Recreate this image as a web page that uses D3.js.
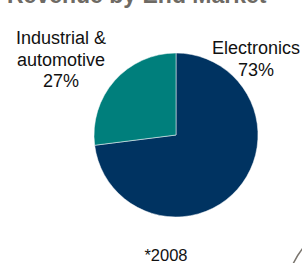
<!DOCTYPE html>
<html>
<head>
<meta charset="utf-8">
<script src="https://cdn.jsdelivr.net/npm/d3@7"></script>
<style>
  body { margin: 0; background: #fff; }
  svg { display: block; font-family: Arial, "Liberation Sans", sans-serif; }
</style>
</head>
<body>
<svg id="chart" width="302" height="263"></svg>
<script>
// data
var segments = ['Electronics', 'Industrial & automotive'];
var shares = [73, 27];
var segColors = ['#003361', '#007f7c'];
var titleText = 'Revenue by End Market';
var footText = '*2008';

var svg = d3.select('#chart');

// title (cut off at the top, as in the slide crop)
svg.append('text')
    .attr('x', 7)
    .attr('y', 3)
    .attr('font-size', 23)
    .attr('font-weight', 'bold')
    .attr('fill', '#6e6a64')
    .text(titleText);

var cx = 176, cy = 135, r = 82;

var pie = d3.pie().sort(null).value(d => d.v);
var arc = d3.arc().innerRadius(0).outerRadius(r);
var data = segments.map((s, i) => ({name: s, v: shares[i], color: segColors[i]}));

var g = svg.append('g').attr('transform', 'translate(' + cx + ',' + cy + ')');
g.selectAll('path.slice')
    .data(pie(data))
    .enter().append('path')
    .attr('class', 'slice')
    .attr('d', arc)
    .attr('fill', d => d.data.color)
    .attr('stroke', '#fff')
    .attr('stroke-width', 0.5);

// labels
var labels = [
    {lines: ['Electronics', shares[0] + '%'], x: 256, y: 54},
    {lines: ['Industrial &', 'automotive', shares[1] + '%'], x: 61, y: 44}
];
labels.forEach(function(l) {
    var t = svg.append('text')
        .attr('text-anchor', 'middle')
        .attr('font-size', 18)
        .attr('fill', '#111');
    l.lines.forEach(function(line, i) {
        t.append('tspan')
            .attr('x', l.x)
            .attr('y', l.y + i * 21.5)
            .text(line);
    });
});

svg.append('text')
    .attr('x', 166)
    .attr('y', 261)
    .attr('text-anchor', 'middle')
    .attr('font-size', 16.5)
    .attr('fill', '#111')
    .text(footText);

// corner decoration arc (bottom right)
svg.append('path')
    .attr('d', 'M293,264 Q298,254 303,248')
    .attr('fill', 'none')
    .attr('stroke', '#7a756e')
    .attr('stroke-width', 1.5);
</script>
</body>
</html>
